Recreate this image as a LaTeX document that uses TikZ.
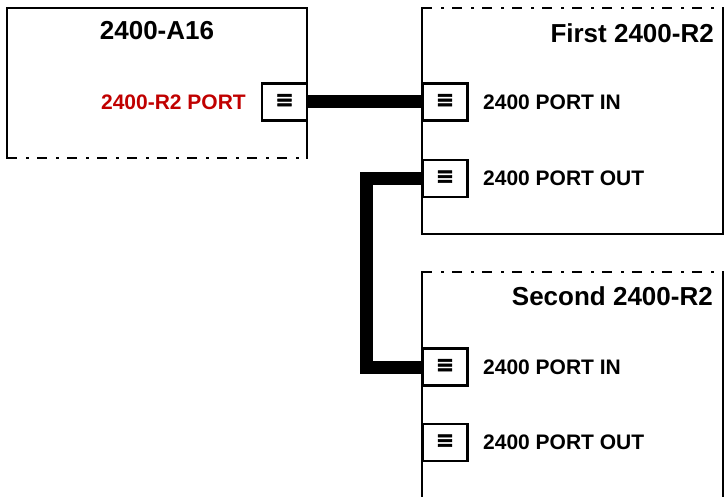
\documentclass[tikz,border=0pt]{standalone}
\usepackage{fontspec}
\setmainfont{Liberation Sans}
\newfontfamily\portglyph[FakeBold=2.5]{DejaVu Sans Bold}
\usetikzlibrary{positioning}

\definecolor{portred}{RGB}{192,0,0}

\begin{document}
\begin{tikzpicture}[
  x=1pt, y=-1pt,
  unit/.style={minimum width=301pt, minimum height=226pt, inner sep=0pt, outer sep=0pt},
  frame/.style={line width=2.4pt, line cap=rect},
  dashdot/.style={line width=2.4pt, dash pattern=on 10pt off 9pt on 2.5pt off 8.5pt},
  port/.style={draw, line width=2.2pt, minimum width=45pt, minimum height=37pt,
    inner sep=0pt, outer sep=0pt, font=\fontsize{22}{24}\portglyph},
  title/.style={font=\fontsize{26}{30}\selectfont\bfseries, inner sep=0pt},
  lbl/.style={font=\fontsize{21}{25}\selectfont\bfseries, inner sep=0pt},
  cable/.style={line width=13pt, line join=miter}
]
  \useasboundingbox (0,0) rectangle (725,497);

  % units
  \node[unit, minimum width=300pt, minimum height=150pt] (a16) at (157,83) {};
  \node[unit] (first)  at (572.5,121) {};
  \node[unit] (second) at (572.5,385) {};

  % frames, cut edges dash-dotted
  \draw[frame] (a16.south west) -- (a16.north west) -- (a16.north east) -- (a16.south east);
  \draw[dashdot] (a16.south west) -- (a16.south east);
  \draw[frame] (first.north west) -- (first.south west) -- (first.south east) -- (first.north east);
  \draw[dashdot] (first.north west) -- (first.north east);
  \draw[frame] (second.north west) -- (second.south west);
  \draw[frame] (second.north east) -- (second.south east);
  \draw[dashdot] (second.north west) -- (second.north east);

  \node[title] (a16title) at (157,31) {2400-A16};
  \node[title, anchor=east] (firsttitle) at (714,33) {First 2400-R2};
  \node[title, anchor=east] (secondtitle) at (713,296) {Second 2400-R2};

  % ports
  \node[port] (a16port)   at (284.5,102) {\raisebox{3pt}{≡}};
  \node[port] (firstin)   at (445,102)   {\raisebox{3pt}{≡}};
  \node[port] (firstout)  at (445,178.5) {\raisebox{3pt}{≡}};
  \node[port] (secondin)  at (445,367)   {\raisebox{3pt}{≡}};
  \node[port] (secondout) at (445,442.5) {\raisebox{3pt}{≡}};

  \node[lbl, text=portred, left=16pt of a16port] (a16lbl) {2400-R2 PORT};
  \node[lbl, right=15.5pt of firstin]   (firstinlbl)   {2400 PORT IN};
  \node[lbl, right=15.5pt of firstout]  (firstoutlbl)  {2400 PORT OUT};
  \node[lbl, right=15.5pt of secondin]  (secondinlbl)  {2400 PORT IN};
  \node[lbl, right=15.5pt of secondout] (secondoutlbl) {2400 PORT OUT};

  % cables
  \draw[cable] (a16port.east) -- (firstin.west);
  \draw[cable] (firstout.west) -- ++(-56.5,0) |- (secondin.west);
\end{tikzpicture}
\end{document}
